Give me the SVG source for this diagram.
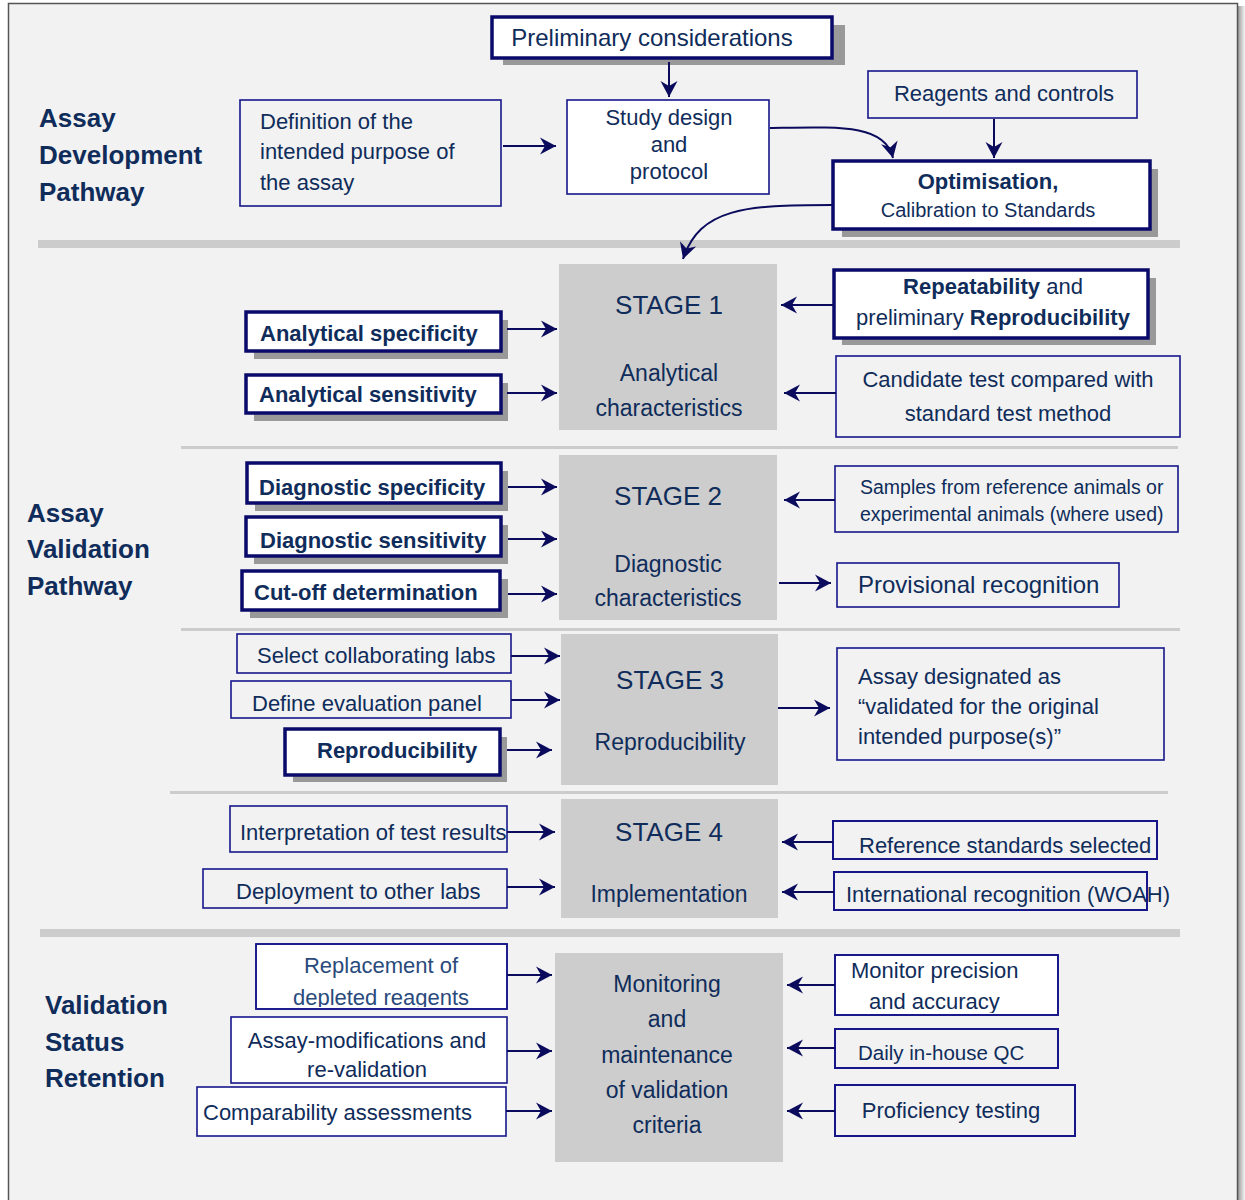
<svg xmlns="http://www.w3.org/2000/svg" width="1245" height="1200" viewBox="0 0 1245 1200">
<style>
text{font-family:"Liberation Sans",Arial,Helvetica,sans-serif;fill:#0f2c5a;font-size:22px}
.c{text-anchor:middle}
.b{font-weight:bold}
.lbl{font-size:26px;font-weight:bold}
.stg{font-size:26px}
.sub{font-size:23px}
.thick{fill:#fff;stroke:#0a0a6a;stroke-width:3.5}
.thin{fill:none;stroke:#16168a;stroke-width:1.6}
.thinw{fill:#fff;stroke:#16168a;stroke-width:1.6}
.sh{fill:#999}
.stage{fill:#cdcdcd}
.sep{fill:#cccccc}
#connectors path{stroke:#0b0b5e;stroke-width:2;fill:none;marker-end:url(#ah)}
</style>
<defs>
<marker id="ah" viewBox="-17 -10 18 20" refX="0" refY="0" markerWidth="18" markerHeight="20" orient="auto" markerUnits="userSpaceOnUse">
<path d="M0,0 L-16,-8.5 L-11,0 L-16,8.5 Z" fill="#0b0b5e"/>
</marker>
<clipPath id="clipRep"><rect x="257" y="945" width="249" height="62"/></clipPath>
<clipPath id="clipMon"><rect x="836" y="956" width="221" height="57"/></clipPath>
<linearGradient id="rs" x1="0" x2="1" y1="0" y2="0"><stop offset="0" stop-color="#9a9a9a"/><stop offset="1" stop-color="#f5f5f5"/></linearGradient>
</defs>

<rect x="0" y="0" width="1245" height="1200" fill="#ffffff"/>
<rect x="1238" y="6" width="7" height="1194" fill="url(#rs)"/>
<rect x="8.5" y="3.5" width="1229" height="1200" fill="#f2f2f2" stroke="#555" stroke-width="1.5"/>

<!-- separators -->
<rect class="sep" x="38" y="240" width="1142" height="8"/>
<rect class="sep" x="181" y="446" width="997" height="3"/>
<rect class="sep" x="181" y="628" width="999" height="3"/>
<rect class="sep" x="170" y="791" width="998" height="3"/>
<rect class="sep" x="40" y="929" width="1140" height="8"/>

<!-- section labels -->
<g id="lbl-dev">
<text class="lbl" x="39" y="127">Assay</text>
<text class="lbl" x="39" y="164">Development</text>
<text class="lbl" x="39" y="201">Pathway</text>
</g>
<g id="lbl-val">
<text class="lbl" x="27" y="522">Assay</text>
<text class="lbl" x="27" y="558">Validation</text>
<text class="lbl" x="27" y="595">Pathway</text>
</g>
<g id="lbl-ret">
<text class="lbl" x="45" y="1014">Validation</text>
<text class="lbl" x="45" y="1051">Status</text>
<text class="lbl" x="45" y="1087">Retention</text>
</g>

<!-- top section nodes -->
<g id="prelim">
<rect class="sh" x="503" y="25" width="342" height="40"/>
<rect class="thick" x="492" y="17" width="340" height="41"/>
<text class="c" x="652" y="46" style="font-size:24px">Preliminary considerations</text>
</g>
<g id="definition">
<rect class="thin" x="240" y="100" width="261" height="106"/>
<text x="260" y="129">Definition of the</text>
<text x="260" y="159">intended purpose of</text>
<text x="260" y="190">the assay</text>
</g>
<g id="study">
<rect class="thinw" x="567" y="100" width="202" height="94"/>
<text class="c" x="669" y="125">Study design</text>
<text class="c" x="669" y="152">and</text>
<text class="c" x="669" y="179">protocol</text>
</g>
<g id="reagents">
<rect class="thin" x="868" y="71" width="269" height="47"/>
<text class="c" x="1004" y="101">Reagents and controls</text>
</g>
<g id="optimisation">
<rect class="sh" x="842" y="169" width="316" height="68"/>
<rect class="thick" x="833" y="161" width="317" height="68"/>
<text class="c b" x="988" y="189">Optimisation,</text>
<text class="c" x="988" y="217" style="font-size:20px">Calibration to Standards</text>
</g>

<!-- stage 1 -->
<g id="stage1">
<rect class="stage" x="559" y="264" width="218" height="166"/>
<text class="c stg" x="669" y="314">STAGE 1</text>
<text class="c sub" x="669" y="381">Analytical</text>
<text class="c sub" x="669" y="416">characteristics</text>
</g>
<g id="an-spec">
<rect class="sh" x="254" y="320" width="254" height="39"/>
<rect class="thick" x="246" y="312" width="255" height="39"/>
<text class="b" x="260" y="341">Analytical specificity</text>
</g>
<g id="an-sens">
<rect class="sh" x="254" y="383" width="254" height="38"/>
<rect class="thick" x="246" y="375" width="255" height="38"/>
<text class="b" x="259" y="402">Analytical sensitivity</text>
</g>
<g id="repeat">
<rect class="sh" x="842" y="278" width="314" height="67"/>
<rect class="thick" x="834" y="270" width="314" height="68"/>
<text class="c" x="993" y="294"><tspan class="b">Repeatability</tspan> and</text>
<text class="c" x="993" y="325">preliminary <tspan class="b">Reproducibility</tspan></text>
</g>
<g id="candidate">
<rect class="thin" x="836" y="356" width="344" height="81"/>
<text class="c" x="1008" y="387">Candidate test compared with</text>
<text class="c" x="1008" y="421">standard test method</text>
</g>

<!-- stage 2 -->
<g id="stage2">
<rect class="stage" x="559" y="455" width="218" height="165"/>
<text class="c stg" x="668" y="505">STAGE 2</text>
<text class="c sub" x="668" y="572">Diagnostic</text>
<text class="c sub" x="668" y="606">characteristics</text>
</g>
<g id="dg-spec">
<rect class="sh" x="255" y="471" width="253" height="40"/>
<rect class="thick" x="247" y="463" width="254" height="40"/>
<text class="b" x="259" y="495">Diagnostic specificity</text>
</g>
<g id="dg-sens">
<rect class="sh" x="254" y="525" width="254" height="39"/>
<rect class="thick" x="246" y="517" width="255" height="39"/>
<text class="b" x="260" y="548">Diagnostic sensitivity</text>
</g>
<g id="cutoff">
<rect class="sh" x="250" y="579" width="258" height="39"/>
<rect class="thick" x="242" y="571" width="258" height="39"/>
<text class="b" x="254" y="600">Cut-off determination</text>
</g>
<g id="samples">
<rect class="thin" x="835" y="466" width="343" height="66"/>
<text x="860" y="494" style="font-size:19.5px">Samples from reference animals or</text>
<text x="860" y="521" style="font-size:19.5px">experimental animals (where used)</text>
</g>
<g id="provisional">
<rect class="thin" x="837" y="563" width="282" height="44"/>
<text x="858" y="593" style="font-size:24px">Provisional recognition</text>
</g>

<!-- stage 3 -->
<g id="stage3">
<rect class="stage" x="561" y="634" width="217" height="151"/>
<text class="c stg" x="670" y="689">STAGE 3</text>
<text class="c sub" x="670" y="750">Reproducibility</text>
</g>
<g id="select">
<rect class="thin" x="237" y="634" width="274" height="39"/>
<text x="257" y="663">Select collaborating labs</text>
</g>
<g id="define">
<rect class="thin" x="231" y="681" width="280" height="37"/>
<text x="252" y="711">Define evaluation panel</text>
</g>
<g id="reprod">
<rect class="sh" x="293" y="737" width="214" height="45"/>
<rect class="thick" x="285" y="729" width="215" height="46"/>
<text class="b" x="317" y="758">Reproducibility</text>
</g>
<g id="designated">
<rect class="thin" x="837" y="648" width="327" height="112"/>
<text x="858" y="684">Assay designated as</text>
<text x="858" y="714">“validated for the original</text>
<text x="858" y="744">intended purpose(s)”</text>
</g>

<!-- stage 4 -->
<g id="stage4">
<rect class="stage" x="561" y="799" width="217" height="119"/>
<text class="c stg" x="669" y="841">STAGE 4</text>
<text class="c sub" x="669" y="902">Implementation</text>
</g>
<g id="interp">
<rect class="thin" x="230" y="806" width="277" height="46"/>
<text x="240" y="840">Interpretation of test results</text>
</g>
<g id="deploy">
<rect class="thin" x="203" y="869" width="304" height="39"/>
<text x="236" y="899">Deployment to other labs</text>
</g>
<g id="refstd">
<rect class="thin" x="833" y="821" width="324" height="38" style="stroke-width:2"/>
<text x="859" y="853">Reference standards selected</text>
</g>
<g id="intl">
<rect class="thin" x="834" y="872" width="313" height="38" style="stroke-width:2"/>
<text x="846" y="902">International recognition (WOAH)</text>
</g>

<!-- retention -->
<g id="monitoring">
<rect class="stage" x="555" y="953" width="228" height="209"/>
<text class="c sub" x="667" y="992">Monitoring</text>
<text class="c sub" x="667" y="1027">and</text>
<text class="c sub" x="667" y="1063">maintenance</text>
<text class="c sub" x="667" y="1098">of validation</text>
<text class="c sub" x="667" y="1133">criteria</text>
</g>
<g id="replacement">
<rect class="thinw" x="256" y="944" width="251" height="65"/>
<g clip-path="url(#clipRep)">
<text class="c" x="381" y="973" style="fill:#2a4a7c">Replacement of</text>
<text class="c" x="381" y="1005" style="fill:#2a4a7c">depleted reagents</text>
</g>
<rect x="256" y="944" width="251" height="65" fill="none" stroke="#16168a" stroke-width="1.6"/>
</g>
<g id="modif">
<rect class="thinw" x="231" y="1017" width="276" height="66"/>
<text class="c" x="367" y="1048">Assay-modifications and</text>
<text class="c" x="367" y="1077">re-validation</text>
</g>
<g id="compar">
<rect class="thinw" x="197" y="1087" width="309" height="49"/>
<text x="203" y="1120">Comparability assessments</text>
</g>
<g id="monitor">
<rect class="thinw" x="835" y="955" width="223" height="60"/>
<g clip-path="url(#clipMon)">
<text x="851" y="978">Monitor precision</text>
<text x="869" y="1009">and accuracy</text>
</g>
<rect x="835" y="955" width="223" height="60" fill="none" stroke="#16168a" stroke-width="1.8"/>
</g>
<g id="daily">
<rect class="thin" x="835" y="1029" width="223" height="39" style="stroke-width:2"/>
<text x="858" y="1060" style="font-size:20.5px">Daily in-house QC</text>
</g>
<g id="proficiency">
<rect class="thin" x="835" y="1085" width="240" height="51" style="stroke-width:2"/>
<text class="c" x="951" y="1118">Proficiency testing</text>
</g>

<!-- connectors -->
<g id="connectors">
<path d="M503,146 H556"/>
<path d="M669,62 V97"/>
<path d="M994,119 V158"/>
<path d="M770,128 C840,127 885,124 893,158"/>
<path d="M832,205 C745,205 700,208 683,259"/>
<path d="M507,329 H557"/>
<path d="M507,393 H557"/>
<path d="M833,305 H781"/>
<path d="M836,393 H784"/>
<path d="M508,487 H557"/>
<path d="M508,539 H557"/>
<path d="M508,594 H557"/>
<path d="M835,500 H784"/>
<path d="M779,583 H831"/>
<path d="M511,656 H560"/>
<path d="M511,700 H560"/>
<path d="M507,750 H552"/>
<path d="M778,708 H830"/>
<path d="M507,832 H555"/>
<path d="M507,887 H555"/>
<path d="M833,842 H782"/>
<path d="M834,892 H782"/>
<path d="M507,975 H552"/>
<path d="M507,1051 H552"/>
<path d="M506,1111 H552"/>
<path d="M835,985 H787"/>
<path d="M835,1048 H787"/>
<path d="M835,1111 H787"/>
</g>
</svg>
